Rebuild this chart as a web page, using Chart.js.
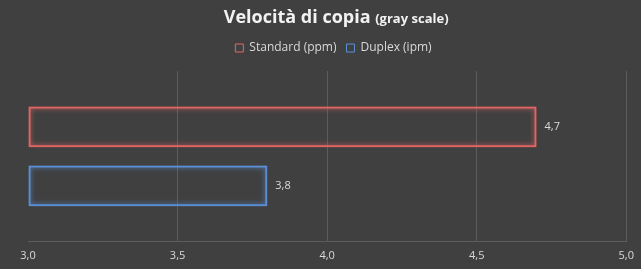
<!DOCTYPE html>
<html>
<head>
<meta charset="utf-8">
<script src="https://cdn.jsdelivr.net/npm/chart.js@4/dist/chart.umd.min.js"></script>
<style>
  html, body { margin: 0; padding: 0; background: #404040; }
  #wrap { width: 641px; height: 269px; position: relative; }
</style>
</head>
<body>
<div id="wrap"><canvas id="chart"></canvas></div>
<script>
// Data
const categories = [""];
const seriesNames = ["Standard (ppm)", "Duplex (ipm)"];
const standardValues = [4.7];
const duplexValues = [3.8];
const tickValues = [3.0, 3.5, 4.0, 4.5, 5.0];

const textColor = "#d9d9d9";
const gridColor = "#5c5c5c";
const red = "#e26464";
const blue = "#5b8fd4";

function commaNum(v) {
  return v.toFixed(1).replace(".", ",");
}

// Title with two font sizes, centred over the plot area
const titlePlugin = {
  id: "mixedTitle",
  afterDraw(chart) {
    const ctx = chart.ctx;
    ctx.save();
    ctx.fillStyle = "#f2f2f2";
    ctx.textBaseline = "alphabetic";
    const bigFont = "bold 18px 'Open Sans', 'DejaVu Sans', sans-serif";
    const smallFont = "bold 13px 'Open Sans', 'DejaVu Sans', sans-serif";
    const a = "Velocità di copia ";
    const b = "(gray scale)";
    ctx.font = bigFont;
    const wa = ctx.measureText(a).width;
    ctx.font = smallFont;
    const wb = ctx.measureText(b).width;
    const area = chart.chartArea;
    let x = (area.left + area.right) / 2 - (wa + wb) / 2 + 9;
    ctx.font = bigFont;
    ctx.fillText(a, x, 23);
    ctx.font = smallFont;
    ctx.fillText(b, x + wa, 23);
    ctx.restore();
  }
};

// Glow around bar outlines
const glowPlugin = {
  id: "glow",
  beforeDatasetDraw(chart, args) {
    const ds = chart.data.datasets[args.index];
    chart.ctx.save();
    chart.ctx.shadowColor = ds.borderColor;
    chart.ctx.shadowBlur = 5;
  },
  afterDatasetDraw(chart) {
    chart.ctx.restore();
  }
};

// Value labels at the end of each bar
const valueLabels = {
  id: "valueLabels",
  afterDatasetsDraw(chart) {
    const ctx = chart.ctx;
    ctx.save();
    ctx.font = "11px 'Open Sans', 'DejaVu Sans', sans-serif";
    ctx.fillStyle = textColor;
    ctx.textAlign = "left";
    ctx.textBaseline = "middle";
    chart.data.datasets.forEach((ds, i) => {
      chart.getDatasetMeta(i).data.forEach((bar, j) => {
        ctx.fillText(commaNum(ds.data[j]), bar.x + 8, bar.y);
      });
    });
    ctx.restore();
  }
};

// Extra space under the legend
const legendGap = {
  id: "legendGap",
  beforeInit(chart) {
    const fitValue = chart.legend.fit;
    chart.legend.fit = function fit() {
      fitValue.bind(chart.legend)();
      this.height += 7;
    };
  }
};

new Chart(document.getElementById("chart"), {
  type: "bar",
  data: {
    labels: categories,
    datasets: [
      {
        label: seriesNames[0],
        data: standardValues,
        backgroundColor: "rgba(0,0,0,0)",
        borderColor: red,
        borderWidth: 2,
        borderSkipped: false
      },
      {
        label: seriesNames[1],
        data: duplexValues,
        backgroundColor: "rgba(0,0,0,0)",
        borderColor: blue,
        borderWidth: 2,
        borderSkipped: false
      }
    ]
  },
  options: {
    indexAxis: "y",
    responsive: true,
    maintainAspectRatio: false,
    animation: false,
    base: 3,
    categoryPercentage: 0.69,
    barPercentage: 0.69,
    layout: { padding: { top: 32, left: 28, right: 2, bottom: 0 } },
    plugins: {
      title: { display: false },
      tooltip: { enabled: false },
      legend: {
        position: "top",
        labels: {
          color: textColor,
          font: { size: 12, family: "'Open Sans', 'DejaVu Sans', sans-serif" },
          boxWidth: 8,
          boxHeight: 8,
          padding: 10,
          generateLabels(chart) {
            return chart.data.datasets.map((ds, i) => ({
              text: ds.label,
              fillStyle: "rgba(0,0,0,0)",
              strokeStyle: ds.borderColor,
              lineWidth: 1,
              fontColor: textColor,
              datasetIndex: i
            }));
          }
        }
      }
    },
    scales: {
      x: {
        min: 3,
        max: 5,
        afterBuildTicks(axis) {
          axis.ticks = tickValues.map(v => ({ value: v }));
        },
        ticks: {
          color: textColor,
          font: { size: 11, family: "'Open Sans', 'DejaVu Sans', sans-serif" },
          padding: 7,
          callback: v => commaNum(v)
        },
        grid: {
          color: c => (c.tick && c.tick.value === 3 ? "rgba(0,0,0,0)" : gridColor),
          drawTicks: false
        },
        border: { color: gridColor }
      },
      y: {
        display: false
      }
    }
  },
  plugins: [titlePlugin, glowPlugin, valueLabels, legendGap]
});
</script>
</body>
</html>
